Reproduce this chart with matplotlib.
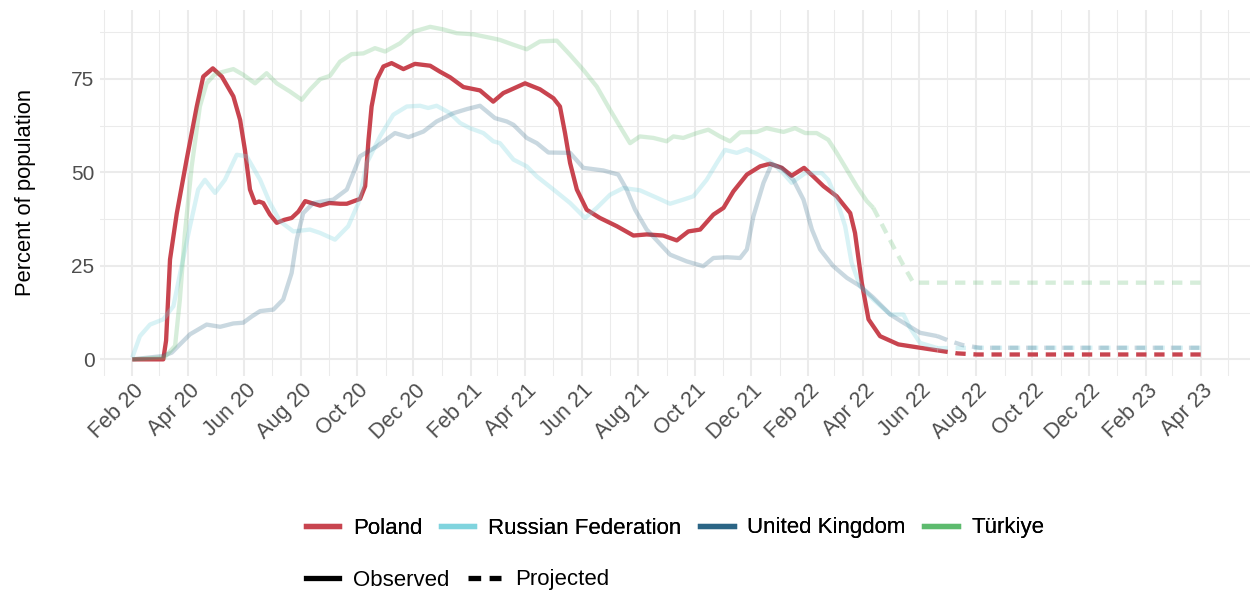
import datetime as dt
import matplotlib
matplotlib.use("Agg")
import matplotlib.pyplot as plt
import matplotlib.dates as mdates
import matplotlib.transforms as mtransforms
from matplotlib.lines import Line2D

plt.rcParams['font.family'] = ['Liberation Sans', 'DejaVu Sans']

# months since 1 Feb 2020 and percent of population
pol_m = [0, 1.1, 1.2, 1.34, 1.58, 1.93, 2.29, 2.52, 2.86, 3.18, 3.59, 3.83, 4.0, 4.18, 4.36, 4.5,
         4.65, 4.89, 5.13, 5.4, 5.66, 5.9, 6.14, 6.67, 7.0, 7.38, 7.62, 8.09, 8.27, 8.39, 8.5, 8.68,
         8.92, 9.21, 9.63, 10.04, 10.58, 10.93, 11.29, 11.76, 12.35, 12.82, 13.18, 13.42, 13.95,
         14.48, 14.96, 15.19, 15.37, 15.55, 15.79, 16.14, 16.61, 17.21, 17.8, 18.27, 18.86, 19.34,
         19.75, 20.17, 20.64, 21.0, 21.35, 21.83, 22.3, 22.65, 23.07, 23.42, 23.86, 24.19, 24.55,
         25.02, 25.5, 25.67, 25.91, 26.15, 26.56, 27.21, 27.98, 28.6]
pol_v = [0, 0, 5, 26.7, 39, 53.4, 67.6, 75.6, 77.8, 75.6, 70.3, 64, 56, 45.4, 41.8, 42.2,
         41.8, 38.7, 36.5, 37.3, 37.8, 39.5, 42.3, 41.1, 41.8, 41.6, 41.6, 42.9, 46.3, 58.7, 67.6, 74.7,
         78.3, 79.2, 77.6, 79, 78.5, 76.9, 75.4, 72.8, 71.9, 68.9, 71.2, 72, 73.8,
         72.2, 69.8, 67.6, 60.5, 52.5, 45.4, 40, 37.8, 35.6, 33.1, 33.4, 33.1, 31.8,
         34.2, 34.7, 38.7, 40.5, 44.9, 49.4, 51.6, 52.3, 51.2, 49.1, 51.2, 48.9, 46.3,
         43.6, 39.1, 33.8, 20.5, 10.7, 6.2, 4.0, 3.1, 2.4]
pol_pm = [28.6, 29.3, 30.0, 37.95]
pol_pv = [2.4, 1.6, 1.3, 1.3]

rus_m = [0, 0.27, 0.63, 1.1, 1.46, 1.75, 2.05, 2.34, 2.58, 2.94, 3.29, 3.71, 4.06, 4.54, 4.89,
         5.25, 5.72, 6.31, 6.67, 7.2, 7.67, 8.03, 8.33, 8.8, 9.27, 9.75, 10.22, 10.51, 10.81, 11.29,
         11.64, 12.0, 12.47, 12.82, 13.06, 13.54, 14.01, 14.37, 14.96, 15.55, 16.08, 16.5, 16.97,
         17.44, 18.03, 18.63, 19.1, 19.57, 19.93, 20.4, 20.76, 21.05, 21.47, 21.83, 22.24, 22.65,
         23.07, 23.42, 23.9, 24.49, 24.72, 25.02, 25.32, 25.55, 25.85, 26.32, 26.92, 27.39, 27.62,
         27.98, 28.6]
rus_v = [0.5, 6.2, 9.3, 10.7, 14.2, 24.9, 35.6, 45.4, 48, 44.5, 48, 54.7, 54.3, 48, 41.8,
         36.9, 34.2, 34.7, 33.8, 32, 35.6, 41.8, 52.5, 59.6, 65.4, 67.6, 67.8, 67.2, 67.8, 65.8,
         63.2, 61.8, 60.5, 58.3, 57.8, 53.4, 51.6, 48.9, 45.4, 41.8, 37.8, 40.5, 44,
         45.8, 45.2, 43.2, 41.6, 42.7, 43.6, 48, 52.5, 56, 55.2, 56.2, 54.7, 52.9,
         50.2, 47.2, 49.8, 49.8, 48, 42.7, 35.6, 25.8, 19.6, 16, 12, 12, 8.5,
         4.4, 3.0]
rus_pm = [28.6, 30.1, 37.95]
rus_pv = [3.0, 3.1, 3.1]

uk_m = [0, 1.1, 1.4, 2.05, 2.64, 3.12, 3.59, 3.94, 4.25, 4.54, 5.01, 5.36, 5.66, 5.84, 6.07,
        6.43, 7.14, 7.62, 8.09, 8.68, 9.33, 9.81, 10.34, 10.81, 11.4, 11.88, 12.35, 12.88, 13.3,
        13.54, 14.01, 14.37, 14.78, 15.55, 16.02, 16.73, 17.26, 17.56, 17.86, 18.27, 19.1, 19.69,
        20.28, 20.64, 21.12, 21.59, 21.83, 22.06, 22.42, 22.71, 23.07, 23.48, 23.84, 24.14, 24.43,
        24.9, 25.38, 25.85, 26.32, 26.92, 27.39, 27.98, 28.6]
uk_v = [0, 0.9, 1.8, 6.7, 9.3, 8.7, 9.6, 9.8, 11.5, 12.9, 13.3, 16, 23.1, 32, 39.1,
        41.8, 42.7, 45.4, 54.3, 56.9, 60.5, 59.4, 60.9, 63.6, 65.8, 66.9, 67.8, 64.5, 63.6,
        62.7, 59.2, 57.8, 55.3, 55.2, 51.2, 50.5, 49.4, 45.4, 40, 34.7, 28, 26.2,
        24.9, 27.1, 27.3, 27.1, 29.4, 38.2, 47.2, 52.2, 51.2, 48, 42.7, 34.7, 29.4,
        24.9, 21.8, 19.6, 16.5, 12, 9.8, 7.1, 6.2]
uk_pm = [28.6, 29.0, 29.5, 30.1, 37.95]
uk_pv = [6.2, 5.0, 3.8, 3.1, 3.1]

tur_m = [0, 1.14, 1.52, 1.69, 1.87, 2.11, 2.4, 2.64, 2.94, 3.59, 3.94, 4.36, 4.77, 5.13, 5.6,
         6.02, 6.31, 6.67, 7.02, 7.38, 7.79, 8.21, 8.62, 8.98, 9.51, 9.98, 10.58, 11.05, 11.52,
         12.11, 12.82, 13.06, 13.54, 14.01, 14.48, 15.08, 15.55, 16.02, 16.5, 16.97, 17.39, 17.68,
         18.03, 18.51, 18.98, 19.22, 19.57, 20.05, 20.46, 20.87, 21.23, 21.59, 22.18, 22.53, 23.13,
         23.54, 23.9, 24.31, 24.72, 25.02, 25.38, 25.73, 26.09, 26.32]
tur_v = [0, 0.5, 3.6, 16, 33.8, 51.6, 67.6, 73.8, 76.3, 77.6, 76.1, 73.8, 76.5, 73.8, 71.6,
         69.4, 72.1, 74.9, 75.8, 79.6, 81.6, 81.8, 83.2, 82.3, 84.5, 87.6, 88.9, 88.2, 87.2,
         86.9, 85.8, 85.4, 84.1, 82.9, 85, 85.2, 81.4, 77.4, 72.9, 66.7, 61.4, 57.8,
         59.6, 59.2, 58.3, 59.6, 59.2, 60.5, 61.4, 59.6, 58.3, 60.7, 60.8, 61.8, 60.8,
         61.8, 60.5, 60.5, 58.7, 55.2, 50.7, 46.3, 42.3, 40.5]
tur_pm = [26.32, 26.7, 27.03, 27.4, 27.74, 27.86, 37.95]
tur_pv = [40.5, 35, 30.2, 25, 20.5, 20.5, 20.5]

countries = ["Poland", "Russian Federation", "United Kingdom", "Türkiye"]
colors = ["#c8444f", "#80d4de", "#2b6585", "#5dbb6e"]
alphas = [1.0, 0.3, 0.25, 0.25]

start = dt.datetime(2020, 2, 1)


def to_dates(months):
    return [start + dt.timedelta(days=m * 30.4375) for m in months]


fig = plt.figure(figsize=(12.51, 5.95), dpi=100)
ax = fig.add_axes([100 / 1251, 219 / 595, 1150 / 1251, 366 / 595])

series = [(pol_m, pol_v, pol_pm, pol_pv), (rus_m, rus_v, rus_pm, rus_pv),
          (uk_m, uk_v, uk_pm, uk_pv), (tur_m, tur_v, tur_pm, tur_pv)]
for (om, ov, pm, pv), c, a in zip(series, colors, alphas):
    ax.plot(to_dates(om), ov, color=c, alpha=a, lw=3.1, solid_joinstyle='round',
            solid_capstyle='butt', zorder=3)
    ax.plot(to_dates(pm), pv, color=c, alpha=a, lw=3.1, linestyle=(0, (2.4, 1.8)),
            dash_capstyle='butt', zorder=3)

ax.set_xlim(to_dates([-1.147, 39.7]))
ax.set_ylim(-4.45, 93.4)
ax.set_yticks([0, 25, 50, 75])
ax.set_yticks([12.5, 37.5, 62.5, 87.5], minor=True)
ax.xaxis.set_major_locator(mdates.MonthLocator(bymonth=[2, 4, 6, 8, 10, 12]))
ax.xaxis.set_minor_locator(mdates.MonthLocator(bymonth=[1, 3, 5, 7, 9, 11]))
ax.xaxis.set_major_formatter(mdates.DateFormatter('%b %y'))

ax.grid(which='major', color='#ebebeb', lw=1.5, zorder=0)
ax.grid(which='minor', color='#ebebeb', lw=0.75, zorder=0)
ax.set_axisbelow(True)
for s in ax.spines.values():
    s.set_visible(False)
ax.tick_params(which='both', length=0)
ax.tick_params(axis='y', labelsize=15, labelcolor='#4d4d4d', pad=4)
ax.tick_params(axis='x', labelsize=15.5, labelcolor='#4d4d4d', pad=3)
offset = mtransforms.ScaledTranslation(1 / 100, 0, fig.dpi_scale_trans)
for lab in ax.get_xticklabels():
    lab.set_rotation(45)
    lab.set_ha('right')
    lab.set_va('top')
    lab.set_rotation_mode('anchor')
    lab.set_transform(lab.get_transform() + offset)

ax.set_ylabel("Percent of population", fontsize=15.8, color='black', labelpad=25)

h1 = [Line2D([], [], color=c, lw=3.8) for c in colors]
leg1 = fig.legend(h1, countries, loc='center left', bbox_to_anchor=(306 / 1251, 1 - 528 / 595),
                  ncol=4, frameon=False, fontsize=16.0, handlelength=1.5, handletextpad=0.62,
                  columnspacing=0.84, borderpad=0, borderaxespad=0)
h2 = [Line2D([], [], color='black', lw=3.8),
      Line2D([], [], color='black', lw=3.8, linestyle=(0, (2.4, 1.6)))]
leg2 = fig.legend(h2, ["Observed", "Projected"], loc='center left',
                  bbox_to_anchor=(306 / 1251, 1 - 580 / 595), ncol=2, frameon=False,
                  fontsize=16.0, handlelength=1.5, handletextpad=0.62, columnspacing=0.84,
                  borderpad=0, borderaxespad=0)
fig.add_artist(leg1)

fig.savefig("out.png", dpi=100)
